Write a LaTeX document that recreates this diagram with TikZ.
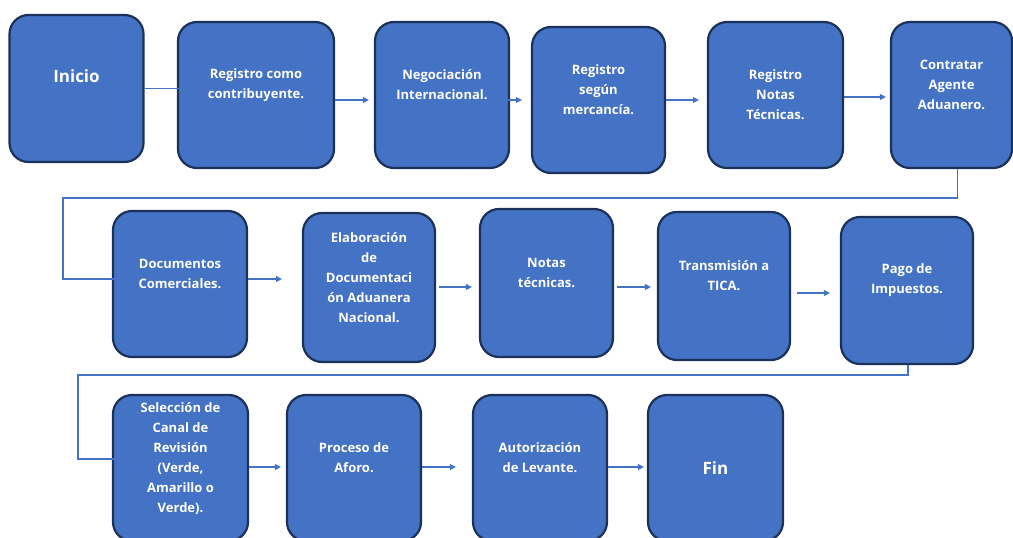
\documentclass[tikz,border=0pt]{standalone}
\usepackage{fontspec}
\setmainfont{Open Sans}
\usetikzlibrary{calc,arrows.meta,positioning}
\definecolor{boxblue}{HTML}{4472C4}
\definecolor{boxedge}{HTML}{1B3159}

\begin{document}
\begin{tikzpicture}[x=1pt,y=-1pt,
  pbox/.style={rectangle, rounded corners=19pt, draw=boxedge, line width=2.2pt, fill=boxblue, minimum width=134pt, minimum height=146pt, inner sep=0pt},
  txt/.style={text=white, font=\bfseries\fontsize{13}{20}\selectfont, align=center},
  bigtxt/.style={font=\bfseries\fontsize{17}{22}\selectfont},
  tx/.style={label={[txt,yshift=10pt]center:{#1}}},
  tc/.style={label={[txt]center:{#1}}},
  flow/.style={draw=boxblue, line width=1.3pt, -{Triangle[length=6pt,width=6pt]}}]
  \useasboundingbox (0,0) rectangle (1013,538);
  % first row
  \node [pbox, minimum height=147pt, label={[txt,bigtxt,yshift=12pt]center:Inicio}] (ini) at (76.5,88.5) {};
  \node [pbox, minimum width=156pt, tx={Registro como\\contribuyente.}] (regc) at (256,95) {};
  \node [pbox, tx={Negociación\\Internacional.}] (neg) at (442,95) {};
  \node [pbox, minimum width=133pt, tx={Registro\\según\\mercancía.}] (regs) at (598.5,100) {};
  \node [pbox, minimum width=135pt, tc={Registro\\Notas\\Técnicas.}] (regn) at (775.5,95) {};
  \node [pbox, minimum width=121pt, tx={Contratar\\Agente\\Aduanero.}] (con) at (951.5,95) {};
  % second row
  \node [pbox, tx={Documentos\\Comerciales.}] (doc) at (180,284) {};
  \node [pbox, minimum width=132pt, minimum height=149pt, tx={Elaboración\\de\\Documentaci\\ón Aduanera\\Nacional.}] (ela) at (369,287.5) {};
  \node [pbox, minimum width=133pt, minimum height=148pt, tx={Notas\\técnicas.}] (not) at (546.5,283) {};
  \node [pbox, minimum width=132pt, minimum height=148pt, tx={Transmisión a\\TICA.}] (tra) at (724,286) {};
  \node [pbox, minimum width=132pt, minimum height=147pt, tx={Pago de\\Impuestos.}] (pag) at (907,290.5) {};
  % third row
  \node [pbox, minimum width=135pt, label={[txt,yshift=9pt]center:{Selección de\\Canal de\\Revisión\\(Verde,\\Amarillo o\\Verde).}}] (sel) at (180.5,468) {};
  \node [pbox, tx={Proceso de\\Aforo.}] (pro) at (354,468) {};
  \node [pbox, tx={Autorización\\de Levante.}] (aut) at (540,468) {};
  \node [pbox, minimum width=135pt, label={[txt,bigtxt]center:Fin}] (fin) at (715.5,468) {};
  % arrows
  \draw [flow] (ini.east) -- ($(regc.west)+(15,-6.5)$);
  \draw [flow] ($(regc.east)+(0,5)$) -- ($(neg.west)+(-5,5)$);
  \draw [flow] ($(neg.east)+(-19,5)$) -- ($(regs.west)+(-9,0)$);
  \draw [flow] (regs.east) -- ($(regn.west)+(-8,5)$);
  \draw [flow] ($(regn.east)+(0,2)$) -- ($(con.west)+(-4,2)$);
  \draw [flow] ($(con.south)+(6,0)$) -- ++(0,29) -| ($(doc.west)+(-49,-5)$) -- ($(doc.west)+(10,-5)$);
  \draw [flow] ($(doc.east)+(0,-5)$) -- ($(ela.west)+(-20,-8.5)$);
  \draw [flow] ($(ela.east)+(3,-0.5)$) -- ($(not.west)+(-7,4)$);
  \draw [flow] ($(not.east)+(3,4)$) -- ($(tra.west)+(-6,1)$);
  \draw [flow] ($(tra.east)+(6,7)$) -- ($(pag.west)+(-10,2.5)$);
  \draw [flow] ($(pag.south)+(1,0)$) -- ++(0,10) -| ($(sel.west)+(-34,-9)$) -- ($(sel.west)+(27,-9)$);
  \draw [flow] ($(sel.east)+(0,-1)$) -- ($(pro.west)+(-5,-1)$);
  \draw [flow] ($(pro.east)+(0,-1)$) -- ($(aut.west)+(-16,-1)$);
  \draw [flow] ($(aut.east)+(0,-1)$) -- ($(fin.west)+(-3,-1)$);
\end{tikzpicture}
\end{document}
